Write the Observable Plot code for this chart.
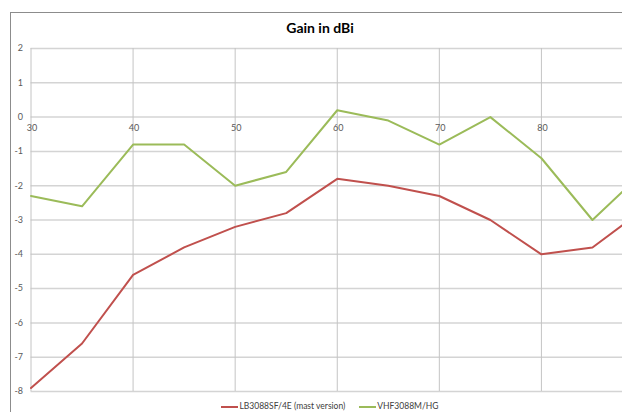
<!DOCTYPE html>
<html>
<head>
<meta charset="utf-8">
<script src="https://cdn.jsdelivr.net/npm/d3@7"></script>
<script src="https://cdn.jsdelivr.net/npm/@observablehq/plot@0.6"></script>
<style>
  html, body { margin: 0; padding: 0; overflow: hidden; background: #fff; }
  #wrap { position: relative; width: 622px; height: 412px; overflow: hidden; font-family: Lato, "Open Sans", sans-serif; }
  #frame { position: absolute; left: 10px; top: 12px; width: 700px; height: 500px; border: 1px solid #8c8c8c; box-sizing: border-box; }
  #title { position: absolute; left: 0; top: 19px; width: 640px; text-align: center; font-weight: bold; font-size: 14px; color: #000; }
  #chart { position: absolute; left: 0; top: 0; width: 660px; }
  #chart svg { max-width: none !important; }
  #legend { position: absolute; left: 0; top: 401px; width: 660px; text-align: center; font-size: 8.5px; color: #404040; white-space: nowrap; }
  .sw { display: inline-block; width: 17px; height: 2px; vertical-align: middle; margin-right: 1px; }
  .item { margin: 0 7px; }
</style>
</head>
<body>
<div id="wrap">
  <div id="frame"></div>
  <div id="chart"></div>
  <div id="title">Gain in dBi</div>
  <div id="legend"></div>
</div>
<script>
const freqs = [30, 35, 40, 45, 50, 55, 60, 65, 70, 75, 80, 85, 90];
const lbGain = [-7.9, -6.6, -4.6, -3.8, -3.2, -2.8, -1.8, -2.0, -2.3, -3.0, -4.0, -3.8, -2.7];
const vhfGain = [-2.3, -2.6, -0.8, -0.8, -2.0, -1.6, 0.2, -0.1, -0.8, 0.0, -1.2, -3.0, -1.6];
const xTicks = [30, 40, 50, 60, 70, 80, 90];
const xTickLabels = [30, 40, 50, 60, 70, 80];
const yTicks = [2, 1, 0, -1, -2, -3, -4, -5, -6, -7, -8];
const seriesNames = ["LB3088SF/4E (mast version)", "VHF3088M/HG"];
const seriesColors = ["#C0504D", "#9BBB59"];

const lbData = freqs.map((f, i) => ({f, g: lbGain[i]}));
const vhfData = freqs.map((f, i) => ({f, g: vhfGain[i]}));

const plot = Plot.plot({
  width: 660,
  height: 412,
  marginLeft: 30.5,
  marginRight: 17,
  marginTop: 48,
  marginBottom: 21,
  style: {fontFamily: "Lato, 'Open Sans', sans-serif", background: "transparent", overflow: "visible", maxWidth: "none"},
  x: {domain: [30, 90], axis: null},
  y: {domain: [-8, 2], axis: null},
  marks: [
    Plot.ruleY(yTicks, {stroke: "#d4d4d4", strokeWidth: 1.5}),
    Plot.ruleX(xTicks, {stroke: "#c4c4c4", strokeWidth: 1}),
    Plot.text(yTicks, {x: 30, y: d => d, text: d => String(d), textAnchor: "end", dx: -8, fontSize: 9, fill: "#595959"}),
    Plot.text(xTickLabels, {x: d => d, y: 0, text: d => String(d), dy: 11, dx: 1, fontSize: 9, fill: "#595959"}),
    Plot.line(lbData, {x: "f", y: "g", stroke: seriesColors[0], strokeWidth: 2}),
    Plot.line(vhfData, {x: "f", y: "g", stroke: seriesColors[1], strokeWidth: 2})
  ]
});
plot.style.maxWidth = "none";
document.getElementById("chart").appendChild(plot);

const legend = document.getElementById("legend");
seriesNames.forEach((n, i) => {
  const s = document.createElement("span");
  s.className = "item";
  s.innerHTML = `<span class="sw" style="background:${seriesColors[i]}"></span>${n}`;
  legend.appendChild(s);
});
</script>
</body>
</html>
